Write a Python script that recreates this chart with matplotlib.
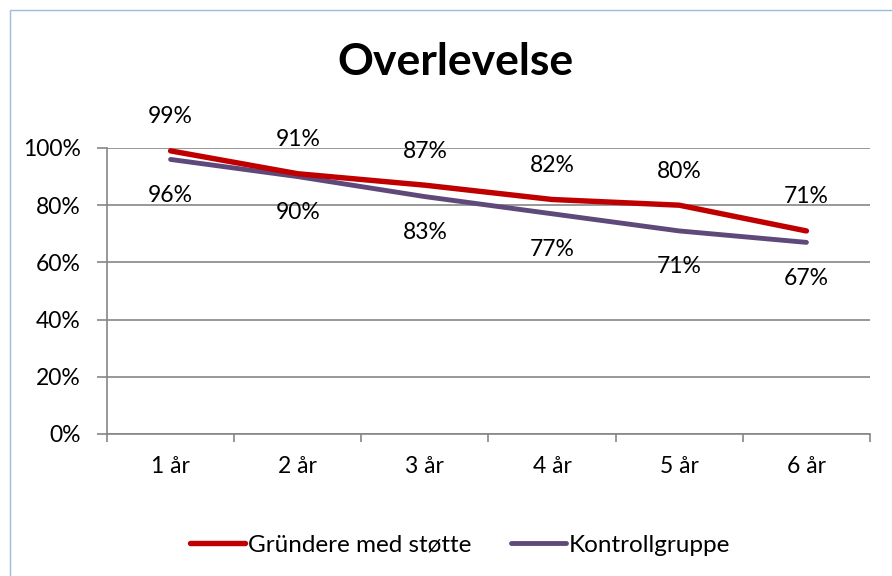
import matplotlib
matplotlib.use("Agg")
import matplotlib.pyplot as plt
from matplotlib.patches import Rectangle
from matplotlib.ticker import FuncFormatter

categories = ["1 år", "2 år", "3 år", "4 år", "5 år", "6 år"]
stotte = [0.99, 0.91, 0.87, 0.82, 0.80, 0.71]
kontroll = [0.96, 0.90, 0.83, 0.77, 0.71, 0.67]
series_names = ["Gründere med støtte", "Kontrollgruppe"]
title = "Overlevelse"

plt.rcParams['font.family'] = ['Lato', 'DejaVu Sans']

W, H = 892, 576
fig = plt.figure(figsize=(W / 100, H / 100), dpi=100)
fig.patch.set_facecolor("white")

# chart border
fig.add_artist(Rectangle((10 / W, -0.05), 1.2, 1 - 10 / H + 0.05, transform=fig.transFigure,
                         fill=False, edgecolor="#9DBBE0", linewidth=1.0))

ax = fig.add_axes([107 / W, 1 - 434 / H, (870 - 107) / W, (434 - 148) / H])
x = list(range(len(categories)))
red = "#C00000"
purple = "#5F497A"
ax.plot(x, stotte, color=red, linewidth=3.9, solid_capstyle="round", solid_joinstyle="round",
        label=series_names[0], zorder=4)
ax.plot(x, kontroll, color=purple, linewidth=3.5, solid_capstyle="round", solid_joinstyle="round",
        label=series_names[1], zorder=3)

NUM = 16.5
ax.set_xlim(-0.5, len(categories) - 0.5)
ax.set_ylim(0, 1.0)
ax.set_yticks([0, 0.2, 0.4, 0.6, 0.8, 1.0])
ax.yaxis.set_major_formatter(FuncFormatter(lambda v, p: f"{v * 100:.0f}%"))
ax.set_xticks(x)
ax.set_xticklabels(categories)
ax.set_xticks([i - 0.5 for i in range(len(categories) + 1)], minor=True)
ax.tick_params(axis="x", which="major", length=0, pad=16, labelsize=NUM)
ax.tick_params(axis="x", which="minor", length=6, color="#868686", width=1.2)
ax.tick_params(axis="y", length=7, color="#868686", width=1.2, pad=12, labelsize=NUM)
ax.grid(axis="y", color="#868686", linewidth=1.2)
ax.set_axisbelow(True)
for s in ["top", "right"]:
    ax.spines[s].set_visible(False)
for s in ["left", "bottom"]:
    ax.spines[s].set_color("#868686")
    ax.spines[s].set_linewidth(1.2)
ax.set_facecolor("none")

# data labels
for i, v in enumerate(stotte):
    ax.annotate(f"{v * 100:.0f}%", (i, v), xytext=(0, 34), textcoords="offset pixels",
                ha="center", va="center", fontsize=NUM, clip_on=False, zorder=5)
for i, v in enumerate(kontroll):
    ax.annotate(f"{v * 100:.0f}%", (i, v), xytext=(0, -36), textcoords="offset pixels",
                ha="center", va="center", fontsize=NUM, clip_on=False, zorder=5)

fig.text(455 / W, 1 - 62 / H, title, ha="center", va="center", fontsize=32, fontweight="bold")

leg = fig.legend(loc="center", bbox_to_anchor=(460 / W, 1 - 545 / H), ncol=2, frameon=False,
                 fontsize=17.5, handlelength=2.26, handletextpad=0.12, columnspacing=1.65)
for line in leg.get_lines():
    line.set_solid_capstyle("round")

fig.savefig("out.png", dpi=100)
